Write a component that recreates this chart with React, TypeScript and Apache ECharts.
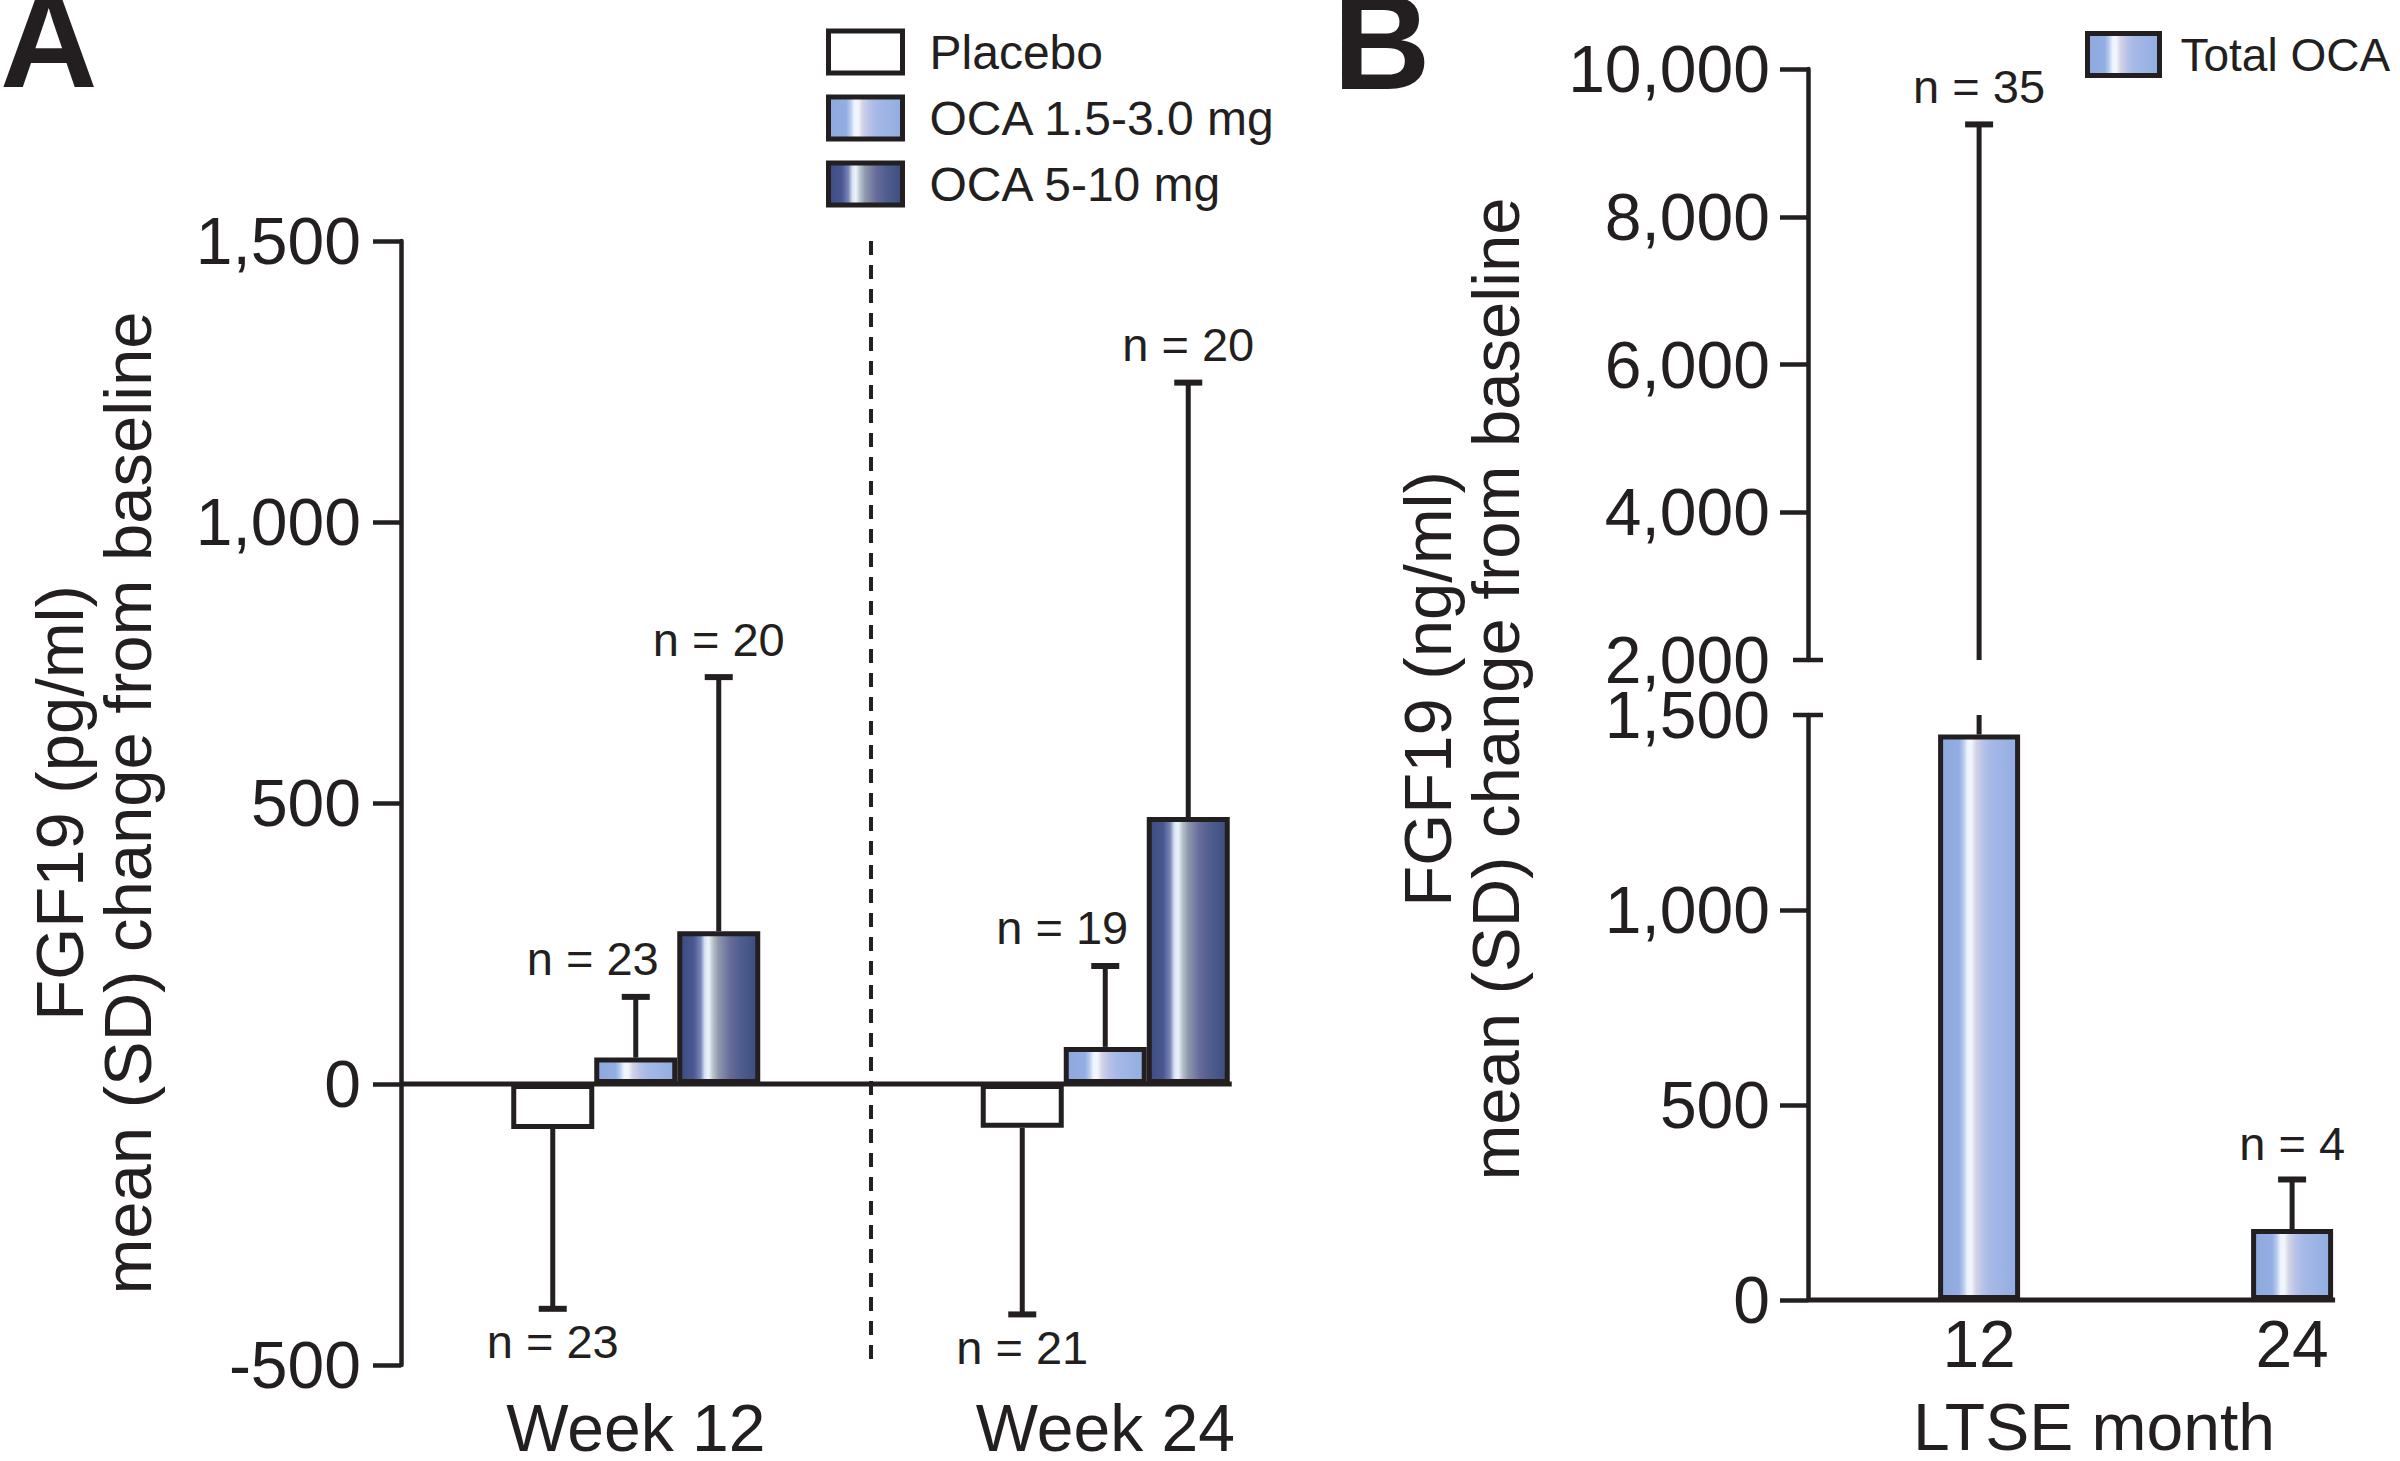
import React, { useEffect, useRef } from 'react';
import * as echarts from 'echarts';

// ---------- Panel A data ----------
const categoriesA = ['Week 12', 'Week 24'];
const groupNamesA = ['Placebo', 'OCA 1.5-3.0 mg', 'OCA 5-10 mg'];
const placeboMean = [-80, -78];
const placeboSD = [320, 332];
const placeboN = [23, 21];
const oca15Mean = [47, 66];
const oca15SD = [108, 144];
const oca15N = [23, 19];
const oca510Mean = [272, 475];
const oca510SD = [452, 773];
const oca510N = [20, 20];
const yMinA = -500;
const yMaxA = 1500;
const yStepA = 500;

// ---------- Panel B data ----------
const seriesNameB = 'Total OCA';
const monthsB = [12, 24];
const totalOcaMean = [1450, 182];
const totalOcaSD = [7800, 127];
const totalOcaN = [35, 4];
const lowerMinB = 0;
const lowerMaxB = 1500;
const lowerStepB = 500;
const upperMinB = 2000;
const upperMaxB = 10000;
const upperStepB = 2000;
const lowerTickValuesB = [0, 500, 1000];
const upperTickValuesB = [4000, 6000, 8000, 10000];

// ---------- style ----------
const FONT = '"Liberation Sans", Arial, Helvetica, sans-serif';
const INK = '#231f20';
const BAR_W_A = 83;
const BAR_W_B = 82;
const CAP = 14;
const BREAK_CAP = 15;
const N_FONT = 47;
const BIG = 66;

const lightGrad = {
  type: 'linear', x: 0, y: 0, x2: 1, y2: 0,
  colorStops: [
    { offset: 0, color: '#8da8de' },
    { offset: 0.24, color: '#93aee2' },
    { offset: 0.3, color: '#b8ccef' },
    { offset: 0.35, color: '#eef4ff' },
    { offset: 0.4, color: '#f2f6fb' },
    { offset: 0.46, color: '#d3d3e6' },
    { offset: 0.54, color: '#bac3e7' },
    { offset: 0.64, color: '#a6b9e7' },
    { offset: 1, color: '#91ade1' },
  ],
};
const darkGrad = {
  type: 'linear', x: 0, y: 0, x2: 1, y2: 0,
  colorStops: [
    { offset: 0, color: '#3b4c80' },
    { offset: 0.18, color: '#4a5791' },
    { offset: 0.27, color: '#7b87b7' },
    { offset: 0.32, color: '#d5e1f6' },
    { offset: 0.37, color: '#eef3fb' },
    { offset: 0.43, color: '#b4c0cc' },
    { offset: 0.5, color: '#8c98a9' },
    { offset: 0.57, color: '#7b82a6' },
    { offset: 0.65, color: '#666b99' },
    { offset: 0.78, color: '#4f5e8e' },
    { offset: 1, color: '#3b4d7e' },
  ],
};
const whiteFill = '#ffffff';

const fmt = (v: number) => v.toLocaleString('en-US');

function nLabel(x: number, y: number, n: number) {
  return {
    type: 'text',
    x,
    y,
    style: {
      text: 'n = ' + n,
      fontSize: N_FONT,
      fontFamily: FONT,
      fill: INK,
      align: 'center',
      verticalAlign: 'middle',
    },
  };
}

function vline(x: number, y1: number, y2: number, w = 5) {
  return { type: 'line', shape: { x1: x, y1, x2: x, y2 }, style: { stroke: INK, lineWidth: w } };
}
function hline(x1: number, x2: number, y: number, w = 6) {
  return { type: 'line', shape: { x1, y1: y, x2, y2: y }, style: { stroke: INK, lineWidth: w } };
}

function barSeriesA(name: string, means: number[], color: any) {
  return {
    type: 'bar',
    name,
    xAxisIndex: 0,
    yAxisIndex: 0,
    data: means,
    barWidth: BAR_W_A,
    barGap: '0%',
    itemStyle: { color, borderColor: INK, borderWidth: 5 },
    z: 2,
  };
}

function errSeriesA(groupIndex: number, means: number[], sds: number[], ns: number[], labelDx: number) {
  return {
    type: 'custom',
    xAxisIndex: 0,
    yAxisIndex: 0,
    silent: true,
    z: 4,
    data: means.map((m, i) => [i, m, sds[i], ns[i]]),
    renderItem: (params: any, api: any) => {
      const ci = api.value(0);
      const mean = api.value(1);
      const sd = api.value(2);
      const n = api.value(3);
      const up = mean >= 0;
      const p0 = api.coord([ci, mean]);
      const p1 = api.coord([ci, up ? mean + sd : mean - sd]);
      const x = p0[0] + (groupIndex - 1) * BAR_W_A;
      return {
        type: 'group',
        children: [
          vline(x, p0[1], p1[1]),
          hline(x - CAP, x + CAP, p1[1]),
          nLabel(x + labelDx, p1[1] + (up ? -38 : 33), n),
        ],
      };
    },
  };
}

function App() {
  const ref = useRef<HTMLDivElement>(null);
  useEffect(() => {
    if (!ref.current) return;
    document.body.style.margin = '0';
    document.body.style.overflow = 'hidden';
    document.documentElement.style.overflow = 'hidden';
    const chart = echarts.init(ref.current, null, { renderer: 'svg', width: 2400, height: 1461 });

    const axisLine = { show: true, onZero: false, lineStyle: { color: INK, width: 4.5 } };
    const axisTick = { show: true, length: 28, lineStyle: { color: INK, width: 4.5 } };
    const axisLabel = { fontSize: BIG, fontFamily: FONT, color: INK, margin: 40, formatter: fmt };

    const option: any = {
      animation: false,
      backgroundColor: '#ffffff',
      textStyle: { fontFamily: FONT },
      grid: [
        { left: 401, top: 241, width: 939, height: 1132 },
        { left: 1808, top: 715, width: 572, height: 594 },
        { left: 1808, top: 69, width: 572, height: 591 },
      ],
      legend: [
        {
          data: groupNamesA,
          orient: 'vertical',
          left: 826,
          top: 28,
          padding: 0,
          itemWidth: 74,
          itemHeight: 42,
          itemGap: 18,
          icon: 'rect',
          selectedMode: false,
          itemStyle: { borderColor: INK, borderWidth: 5 },
          textStyle: { fontSize: 48, fontFamily: FONT, color: INK, padding: [0, 0, 0, 22] },
        },
        {
          data: [seriesNameB],
          orient: 'vertical',
          left: 2085,
          top: 31,
          padding: 0,
          itemWidth: 72,
          itemHeight: 42,
          icon: 'rect',
          selectedMode: false,
          itemStyle: { borderColor: INK, borderWidth: 5 },
          textStyle: { fontSize: 46, fontFamily: FONT, color: INK, padding: [0, 0, 0, 16] },
        },
      ],
      xAxis: [
        {
          gridIndex: 0,
          type: 'category',
          data: categoriesA,
          position: 'bottom',
          axisLine: { show: false, onZero: false },
          axisTick: { show: false },
          axisLabel: { fontSize: BIG, fontFamily: FONT, color: INK, margin: 38, lineHeight: 50 },
          splitLine: {
            show: true,
            interval: 0,
            showMinLine: false,
            showMaxLine: false,
            lineStyle: { color: INK, width: 4, type: [14, 10] },
          },
        },
        {
          gridIndex: 1,
          type: 'value',
          min: 5.44,
          max: 27.37,
          position: 'bottom',
          axisLine: { show: false, onZero: false },
          axisTick: { show: false },
          splitLine: { show: false },
          axisLabel: { customValues: monthsB, fontSize: BIG, fontFamily: FONT, color: INK, margin: 19, lineHeight: 50 },
          name: 'LTSE month',
          nameLocation: 'middle',
          nameGap: 102,
          nameTextStyle: { fontSize: BIG, fontFamily: FONT, color: INK, lineHeight: 50 },
        },
        {
          gridIndex: 2,
          type: 'value',
          min: 5.44,
          max: 27.37,
          show: false,
        },
      ],
      yAxis: [
        {
          gridIndex: 0,
          type: 'value',
          min: yMinA,
          max: yMaxA,
          interval: yStepA,
          axisLine,
          axisTick,
          axisLabel,
          splitLine: { show: false },
          name: 'FGF19 (pg/ml)\nmean (SD) change from baseline',
          nameLocation: 'middle',
          nameRotate: 90,
          nameGap: 240,
          nameTextStyle: { fontSize: 67, lineHeight: 68, fontFamily: FONT, color: INK },
        },
        {
          gridIndex: 1,
          type: 'value',
          min: lowerMinB,
          max: lowerMaxB,
          interval: lowerStepB,
          axisLine,
          axisTick: { ...axisTick, customValues: lowerTickValuesB },
          axisLabel: { ...axisLabel, margin: 38, lineHeight: 50 },
          splitLine: { show: false },
        },
        {
          gridIndex: 2,
          type: 'value',
          min: upperMinB,
          max: upperMaxB,
          interval: upperStepB,
          axisLine,
          axisTick: { ...axisTick, customValues: upperTickValuesB },
          axisLabel: { ...axisLabel, margin: 38, lineHeight: 50 },
          splitLine: { show: false },
        },
      ],
      graphic: [
        {
          type: 'text',
          left: 0,
          top: -27,
          style: { text: 'A', fontSize: 135, fontWeight: 'bold', fontFamily: FONT, fill: INK },
        },
        {
          type: 'text',
          left: 1333,
          top: -25,
          style: { text: 'B', fontSize: 135, fontWeight: 'bold', fontFamily: FONT, fill: INK },
        },
        {
          type: 'text',
          x: 1461,
          y: 689,
          rotation: Math.PI / 2,
          style: {
            text: 'FGF19 (ng/ml)\nmean (SD) change from baseline',
            fontSize: 67,
            lineHeight: 68,
            fontFamily: FONT,
            fill: INK,
            align: 'center',
            verticalAlign: 'middle',
          },
        },
      ],
      series: [
        barSeriesA(groupNamesA[0], placeboMean, whiteFill),
        barSeriesA(groupNamesA[1], oca15Mean, lightGrad),
        barSeriesA(groupNamesA[2], oca510Mean, darkGrad),
        errSeriesA(0, placeboMean, placeboSD, placeboN, 0),
        errSeriesA(1, oca15Mean, oca15SD, oca15N, -43),
        errSeriesA(2, oca510Mean, oca510SD, oca510N, 0),
        // zero baseline of panel A (from y axis to right edge of last bar)
        {
          type: 'custom',
          xAxisIndex: 0,
          yAxisIndex: 0,
          silent: true,
          z: 5,
          data: [[categoriesA.length - 1, 0]],
          renderItem: (params: any, api: any) => {
            const p = api.coord([api.value(0), api.value(1)]);
            const right = p[0] + 1.5 * BAR_W_A + 2;
            return hline(params.coordSys.x, right, p[1], 5);
          },
        },
        // Panel B bars
        {
          type: 'bar',
          name: seriesNameB,
          xAxisIndex: 1,
          yAxisIndex: 1,
          data: monthsB.map((m, i) => [m, totalOcaMean[i]]),
          barWidth: BAR_W_B,
          itemStyle: { color: lightGrad, borderColor: INK, borderWidth: 5 },
          z: 2,
        },
        // Panel B error bars: lower segment
        {
          type: 'custom',
          xAxisIndex: 1,
          yAxisIndex: 1,
          silent: true,
          z: 4,
          data: monthsB.map((m, i) => [m, totalOcaMean[i], totalOcaSD[i], totalOcaN[i]]),
          renderItem: (params: any, api: any) => {
            const m = api.value(0);
            const mean = api.value(1);
            const sd = api.value(2);
            const n = api.value(3);
            const top = mean + sd;
            const p0 = api.coord([m, mean]);
            const pt = api.coord([m, Math.min(top, lowerMaxB)]);
            const children: any[] = [vline(p0[0], p0[1], pt[1])];
            if (top <= lowerMaxB) {
              children.push(hline(p0[0] - CAP, p0[0] + CAP, pt[1]));
              children.push(nLabel(p0[0], pt[1] - 36, n));
            }
            const ax = params.coordSys.x;
            if (params.dataIndex === 0) {
              const yb = api.coord([m, lowerMaxB])[1];
              children.push(hline(ax - BREAK_CAP, ax + BREAK_CAP, yb, 4.5));
            }
            if (params.dataIndex === monthsB.length - 1) {
              const pz = api.coord([m, 0]);
              children.push(hline(ax, pz[0] + BAR_W_B / 2 + 2, pz[1], 5));
            }
            return { type: 'group', children };
          },
        },
        // Panel B error bars: upper segment (above the axis break)
        {
          type: 'custom',
          xAxisIndex: 2,
          yAxisIndex: 2,
          silent: true,
          z: 4,
          data: monthsB.map((m, i) => [m, totalOcaMean[i], totalOcaSD[i], totalOcaN[i]]),
          renderItem: (params: any, api: any) => {
            const m = api.value(0);
            const mean = api.value(1);
            const sd = api.value(2);
            const n = api.value(3);
            const top = mean + sd;
            const children: any[] = [];
            if (top > upperMinB) {
              const p0 = api.coord([m, Math.max(mean, upperMinB)]);
              const pt = api.coord([m, top]);
              children.push(vline(p0[0], p0[1], pt[1]));
              children.push(hline(p0[0] - CAP, p0[0] + CAP, pt[1]));
              children.push(nLabel(p0[0], pt[1] - 38, n));
            }
            if (params.dataIndex === 0) {
              const ax = params.coordSys.x;
              const yb = api.coord([m, upperMinB])[1];
              children.push(hline(ax - BREAK_CAP, ax + BREAK_CAP, yb, 4.5));
            }
            return { type: 'group', children };
          },
        },
      ],
    };

    chart.setOption(option);
    return () => chart.dispose();
  }, []);

  return (
    <div
      ref={ref}
      style={{
        display: 'block',
        width: 2400,
        height: 1461,
        overflow: 'hidden',
        background: '#fff',
      }}
    />
  );
}

export default App;
